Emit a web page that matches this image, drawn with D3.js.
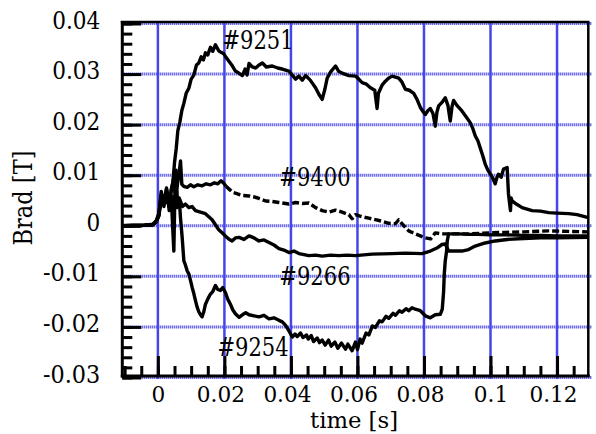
<!DOCTYPE html>
<html>
<head>
<meta charset="utf-8">
<script src="https://cdn.jsdelivr.net/npm/d3@7"></script>
<style>
  html, body { margin: 0; padding: 0; background: #fff; }
  svg { display: block; }
</style>
</head>
<body>
<svg id="chart" width="596" height="434"></svg>
<script>
// ---------------- data (time [s], Brad [T]) ----------------
const shot9251 = [[-0.0107,0.0],[-0.004,0.0001],[-0.0015,0.0003],[-0.0005,0.001],[0.0003,0.0025],[0.001,0.0058],[0.0018,0.0042],[0.0026,0.0066],[0.0034,0.0038],[0.004,0.0072],[0.0045,0.0085],[0.005,0.0125],[0.0055,0.0152],[0.006,0.0188],[0.0066,0.0205],[0.0072,0.0228],[0.0078,0.0242],[0.0085,0.0262],[0.0093,0.0272],[0.01,0.029],[0.0108,0.0298],[0.0116,0.0318],[0.0123,0.0322],[0.013,0.0334],[0.0137,0.0328],[0.0143,0.0342],[0.015,0.0338],[0.0158,0.0353],[0.0165,0.0345],[0.0173,0.0358],[0.0178,0.0352],[0.0183,0.0346],[0.019,0.0343],[0.0198,0.034],[0.0205,0.0333],[0.0213,0.0326],[0.0222,0.0318],[0.0233,0.0306],[0.0243,0.0302],[0.0254,0.0297],[0.0262,0.031],[0.0268,0.0298],[0.0274,0.0321],[0.0284,0.0314],[0.0294,0.0312],[0.0304,0.0318],[0.0314,0.0322],[0.0326,0.0314],[0.0344,0.0316],[0.036,0.0312],[0.0374,0.031],[0.0394,0.0306],[0.0404,0.0298],[0.0414,0.029],[0.0424,0.0296],[0.0434,0.0288],[0.0444,0.0297],[0.0458,0.0288],[0.0474,0.0273],[0.0484,0.026],[0.0494,0.025],[0.0502,0.027],[0.0509,0.0292],[0.052,0.0305],[0.0534,0.0316],[0.0544,0.0305],[0.0554,0.0302],[0.0574,0.0297],[0.0594,0.0296],[0.0604,0.029],[0.0614,0.0283],[0.0627,0.028],[0.0639,0.0273],[0.0652,0.0268],[0.0659,0.0232],[0.0663,0.0262],[0.0674,0.0278],[0.0684,0.0286],[0.0694,0.0292],[0.0704,0.0296],[0.0714,0.0294],[0.0724,0.0292],[0.0734,0.0284],[0.0744,0.027],[0.0756,0.0268],[0.0769,0.0262],[0.0779,0.025],[0.0789,0.0234],[0.0797,0.0226],[0.0804,0.022],[0.0812,0.0228],[0.0819,0.0232],[0.0827,0.0222],[0.0834,0.0197],[0.0839,0.0225],[0.0844,0.0237],[0.0854,0.0244],[0.0864,0.0253],[0.0872,0.0238],[0.0879,0.0207],[0.0884,0.0235],[0.0889,0.0248],[0.0899,0.0238],[0.0914,0.0227],[0.0926,0.0216],[0.0939,0.0204],[0.0947,0.0192],[0.0954,0.0178],[0.0962,0.0168],[0.0969,0.0154],[0.0977,0.0138],[0.0984,0.0122],[0.0992,0.011],[0.1,0.0102],[0.1007,0.0094],[0.1014,0.0083],[0.1019,0.0095],[0.1024,0.0102],[0.1032,0.0096],[0.1039,0.0112],[0.105,0.0115],[0.1054,0.0063],[0.106,0.003],[0.1062,0.0055],[0.1065,0.0049],[0.108,0.0042],[0.1095,0.0036],[0.111,0.0033],[0.1125,0.003],[0.115,0.0029],[0.1175,0.0026],[0.12,0.0025],[0.1235,0.0024],[0.126,0.0022],[0.1294,0.0016]];

const shot9400a = [[-0.0107,0],[-0.004,0.0001],[-0.0015,0.0002],[-0.0005,0.0009],[0.0003,0.002],[0.001,0.0062],[0.0018,0.0052],[0.0026,0.0072],[0.0034,0.0048],[0.004,0.0068],[0.0046,0.009],[0.0052,0.0065],[0.0058,0.0078],[0.0064,0.0105],[0.0068,0.0128],[0.0072,0.0082],[0.0078,0.0078],[0.0088,0.0076],[0.0098,0.0081],[0.0108,0.0077],[0.012,0.0081],[0.0133,0.0079],[0.0145,0.0083],[0.0158,0.0081],[0.017,0.0085],[0.018,0.0083],[0.019,0.0089],[0.0198,0.0084],[0.0205,0.0078]];
const shot9400b = [[0.0205,0.0078],[0.0215,0.0072],[0.0225,0.0066],[0.0235,0.0064],[0.0254,0.006],[0.0274,0.0059],[0.029,0.0057],[0.0304,0.0054],[0.0324,0.0049],[0.0344,0.0048],[0.0364,0.0046],[0.0394,0.0043],[0.0414,0.0046],[0.0434,0.0044],[0.0454,0.0045],[0.0474,0.0036],[0.0494,0.003],[0.0514,0.0027],[0.0534,0.0031],[0.0554,0.0027],[0.0574,0.0022],[0.0584,0.0014],[0.0594,0.0022],[0.0614,0.0018],[0.0634,0.0015],[0.0654,0.0012],[0.0674,0.0009],[0.0694,0.0005],[0.0714,0.0004],[0.0724,0.0012],[0.0734,0.0004],[0.0754,-0.001],[0.0774,-0.0016],[0.0789,-0.002],[0.0804,-0.0024],[0.082,-0.0026],[0.0834,-0.0014],[0.0854,-0.0016],[0.0884,-0.0016],[0.0934,-0.0016],[0.1,-0.0014],[0.1044,-0.0013],[0.11,-0.0012],[0.1175,-0.001],[0.1235,-0.0011],[0.1294,-0.0012]];

const shot9266 = [[-0.0107,0],[-0.004,0.0001],[-0.0015,0.0002],[-0.0005,0.0008],[0.0003,0.002],[0.001,0.0052],[0.0018,0.0058],[0.0026,0.0046],[0.0034,0.0062],[0.0042,0.0044],[0.005,0.0058],[0.0058,0.0036],[0.0066,0.0052],[0.0074,0.0038],[0.0083,0.0043],[0.0093,0.0036],[0.0103,0.0038],[0.0113,0.003],[0.0123,0.0028],[0.0133,0.0026],[0.0143,0.0024],[0.0153,0.0018],[0.0163,0.0012],[0.0173,0.0002],[0.0183,-0.0008],[0.0193,-0.0014],[0.0203,-0.002],[0.0213,-0.0026],[0.0223,-0.003],[0.0233,-0.0024],[0.0244,-0.0023],[0.0259,-0.0027],[0.0274,-0.002],[0.0289,-0.0024],[0.0304,-0.003],[0.0319,-0.0028],[0.0334,-0.0033],[0.0349,-0.0038],[0.0364,-0.0045],[0.0379,-0.0048],[0.0394,-0.0053],[0.0409,-0.005],[0.0424,-0.0055],[0.0439,-0.0057],[0.0454,-0.0059],[0.0474,-0.0058],[0.0494,-0.006],[0.0519,-0.0058],[0.0544,-0.0059],[0.0569,-0.0058],[0.0594,-0.0059],[0.0644,-0.0056],[0.0704,-0.0055],[0.0744,-0.0054],[0.0794,-0.0055],[0.0819,-0.005],[0.0839,-0.0044],[0.0854,-0.0037],[0.0864,-0.0036],[0.0874,-0.005],[0.0894,-0.005],[0.0914,-0.005],[0.0934,-0.0047],[0.0954,-0.004],[0.0984,-0.0034],[0.1014,-0.003],[0.105,-0.0027],[0.11,-0.0025],[0.115,-0.0024],[0.12,-0.0024],[0.1294,-0.0023]];

const shot9254 = [[-0.0107,0],[-0.004,0.0001],[-0.0015,0.0002],[-0.0005,0.0008],[0.0003,0.0022],[0.001,0.0068],[0.0018,0.0038],[0.0026,0.0075],[0.0034,0.003],[0.004,0.006],[0.0045,-0.001],[0.0048,-0.005],[0.0051,0.006],[0.0055,0.011],[0.0059,0.004],[0.0064,0.0055],[0.0068,0.0015],[0.0073,-0.0023],[0.0078,-0.0069],[0.0083,-0.0078],[0.0088,-0.0089],[0.0093,-0.0095],[0.0098,-0.0108],[0.0103,-0.0122],[0.0108,-0.0134],[0.0113,-0.0148],[0.0118,-0.0161],[0.0123,-0.017],[0.0128,-0.0176],[0.0133,-0.018],[0.0138,-0.017],[0.0143,-0.0155],[0.015,-0.0145],[0.0158,-0.0135],[0.0165,-0.013],[0.0173,-0.0118],[0.018,-0.0126],[0.0188,-0.0128],[0.0195,-0.0122],[0.0203,-0.0132],[0.021,-0.0145],[0.0218,-0.0155],[0.0225,-0.0166],[0.0233,-0.0174],[0.0244,-0.0181],[0.0254,-0.0176],[0.0264,-0.0172],[0.0274,-0.0176],[0.0289,-0.0178],[0.0304,-0.018],[0.0319,-0.0177],[0.0334,-0.0184],[0.0349,-0.0182],[0.0364,-0.0187],[0.0374,-0.019],[0.0384,-0.0197],[0.0394,-0.0208],[0.0404,-0.022],[0.0412,-0.0214],[0.0419,-0.0219],[0.0429,-0.0212],[0.0436,-0.0221],[0.0447,-0.0216],[0.0452,-0.0224],[0.0461,-0.0217],[0.0468,-0.0229],[0.0479,-0.0222],[0.0486,-0.0231],[0.0494,-0.0226],[0.0503,-0.0236],[0.0513,-0.0226],[0.0521,-0.0238],[0.0532,-0.023],[0.0541,-0.0242],[0.0552,-0.0232],[0.0564,-0.0244],[0.0571,-0.0234],[0.0584,-0.0247],[0.0594,-0.023],[0.06,-0.0245],[0.0608,-0.0224],[0.0614,-0.0232],[0.0626,-0.0212],[0.0634,-0.0216],[0.0645,-0.0198],[0.0654,-0.0201],[0.0666,-0.0188],[0.0674,-0.019],[0.0686,-0.0179],[0.0694,-0.0183],[0.0707,-0.0173],[0.0714,-0.0177],[0.0726,-0.0168],[0.0734,-0.0171],[0.0746,-0.0164],[0.0754,-0.0168],[0.0764,-0.0162],[0.0774,-0.0165],[0.0789,-0.0168],[0.0804,-0.0178],[0.0819,-0.0182],[0.0834,-0.0176],[0.0849,-0.0175],[0.0855,-0.0165],[0.0859,-0.013],[0.0861,-0.0095],[0.0864,-0.0069],[0.0868,-0.005],[0.087,-0.003],[0.0874,-0.0016],[0.0904,-0.0016],[0.0934,-0.0017],[0.0964,-0.0017],[0.1,-0.0018],[0.105,-0.0018],[0.11,-0.0019],[0.115,-0.0019],[0.12,-0.002],[0.1294,-0.002]];

const yMajorTicks = [-0.03, -0.02, -0.01, 0, 0.01, 0.02, 0.03, 0.04];
const yTickLabels = ["-0.03", "-0.02", "-0.01", "0", "0.01", "0.02", "0.03", "0.04"];
const xMajorTicks = [0, 0.02, 0.04, 0.06, 0.08, 0.1, 0.12];
const xTickLabels = ["0", "0.02", "0.04", "0.06", "0.08", "0.1", "0.12"];
const shotLabels = ["#9251", "#9400", "#9266", "#9254"];
const shotLabelPos = [[0.0194, 0.0350], [0.0365, 0.0078], [0.0365, -0.0117], [0.0179, -0.0257]];

// ---------------- drawing ----------------
const FONT = "'DejaVu Serif', 'Liberation Serif', 'Times New Roman', serif";
// Times-like advance widths (em) to keep the reference's text widths
const TW = {"0":0.5,"1":0.5,"2":0.5,"3":0.5,"4":0.5,"5":0.5,"6":0.5,"7":0.5,"8":0.5,"9":0.5,".":0.25,"-":0.333,"#":0.5};
const tw = (s, size) => Array.from(s).reduce((a, c) => a + (TW[c] || 0.5), 0) * size;

const svg = d3.select("#chart");
const x = d3.scaleLinear().domain([-0.0107, 0.1294]).range([122.3, 588.3]);
const y = d3.scaleLinear().domain([-0.03, 0.04]).range([377.5, 23.5]);

const L = 122.3, R = 588.3, T = 22, B = 376;

// grid
const grid = svg.append("g");
grid.selectAll("line.h").data(yMajorTicks).enter().append("line")
  .attr("x1", L).attr("x2", R + 3)
  .attr("y1", d => y(d)).attr("y2", d => y(d))
  .attr("stroke", "#2f2fe4").attr("stroke-width", 3).attr("stroke-dasharray", "1,1");
grid.selectAll("line.v").data(xMajorTicks).enter().append("line")
  .attr("x1", d => x(d)).attr("x2", d => x(d))
  .attr("y1", T).attr("y2", B + 3)
  .attr("stroke", "#4646e8").attr("stroke-width", 2.5);

// lines
const line = d3.line().x(d => x(d[0])).y(d => y(d[1]));
const lines = svg.append("g").attr("fill", "none").attr("stroke", "#000")
  .attr("stroke-width", 3.4).attr("stroke-linejoin", "round").attr("stroke-linecap", "butt");
[shot9251, shot9266, shot9254, shot9400a].forEach(s => lines.append("path").attr("d", line(s)));
lines.append("path").attr("d", line(shot9400b)).attr("stroke-dasharray", "7,3");

// axes (inward ticks)
const yMinor = d3.range(-0.03, 0.0401, 0.002);
const xMinor = d3.range(-0.01, 0.1291, 0.005);
const ax = svg.append("g");
const gyMin = ax.append("g").attr("transform", `translate(${L},0)`)
  .call(d3.axisLeft(y).tickValues(yMinor).tickSize(-10).tickFormat(""));
const gyMaj = ax.append("g").attr("transform", `translate(${L},0)`)
  .call(d3.axisLeft(y).tickValues(yMajorTicks).tickSize(-19).tickPadding(22)
    .tickFormat((d, i) => yTickLabels[i]));
const gxMin = ax.append("g").attr("transform", `translate(0,${B})`)
  .call(d3.axisBottom(x).tickValues(xMinor).tickSize(-10).tickFormat(""));
const gxMaj = ax.append("g").attr("transform", `translate(0,${B})`)
  .call(d3.axisBottom(x).tickValues(xMajorTicks).tickSize(-20).tickPadding(8)
    .tickFormat((d, i) => xTickLabels[i]));
ax.selectAll("g").attr("font-family", FONT).attr("font-size", 25);
ax.selectAll(".domain").remove();
ax.selectAll(".tick line").attr("stroke", "#000").attr("stroke-width", 3);
ax.selectAll(".tick text").attr("font-family", FONT).attr("fill", "#000")
  .attr("lengthAdjust", "spacingAndGlyphs")
  .attr("textLength", function() { return tw(this.textContent, 27.5); });
gyMaj.selectAll(".tick text").attr("font-size", 25).attr("dy", null).attr("y", 4.5);
gxMaj.selectAll(".tick text").attr("font-size", 22.5).attr("dy", null).attr("y", 26)
  .attr("x", (d, i) => xTickLabels[i].length > 3 ? -4 : 0);

// frame
const frame = svg.append("g").attr("stroke", "#000");
frame.append("line").attr("x1", L).attr("x2", L).attr("y1", T - 1).attr("y2", B + 1.5).attr("stroke-width", 3);
frame.append("line").attr("x1", L - 1.5).attr("x2", R + 1.5).attr("y1", B).attr("y2", B).attr("stroke-width", 3);
frame.append("line").attr("x1", L - 1.5).attr("x2", R + 1.2).attr("y1", T).attr("y2", T).attr("stroke-width", 2.5);
frame.append("line").attr("x1", R).attr("x2", R).attr("y1", T).attr("y2", B).attr("stroke-width", 2.5);

// annotations
svg.append("g").selectAll("text").data(shotLabels).enter().append("text")
  .attr("x", (d, i) => x(shotLabelPos[i][0]))
  .attr("y", (d, i) => y(shotLabelPos[i][1]))
  .attr("font-family", FONT).attr("font-size", 26)
  .attr("lengthAdjust", "spacingAndGlyphs").attr("textLength", d => tw(d, 28.5))
  .text(d => d);

// axis titles
svg.append("text").attr("x", 354).attr("y", 428).attr("text-anchor", "middle")
  .attr("font-family", FONT).attr("font-size", 21.5)
  .attr("lengthAdjust", "spacingAndGlyphs").attr("textLength", 88).text("time [s]");
svg.append("text").attr("transform", "translate(32,198) rotate(-90)").attr("text-anchor", "middle")
  .attr("font-family", FONT).attr("font-size", 26)
  .attr("lengthAdjust", "spacingAndGlyphs").attr("textLength", 95).text("Brad [T]");
</script>
</body>
</html>
